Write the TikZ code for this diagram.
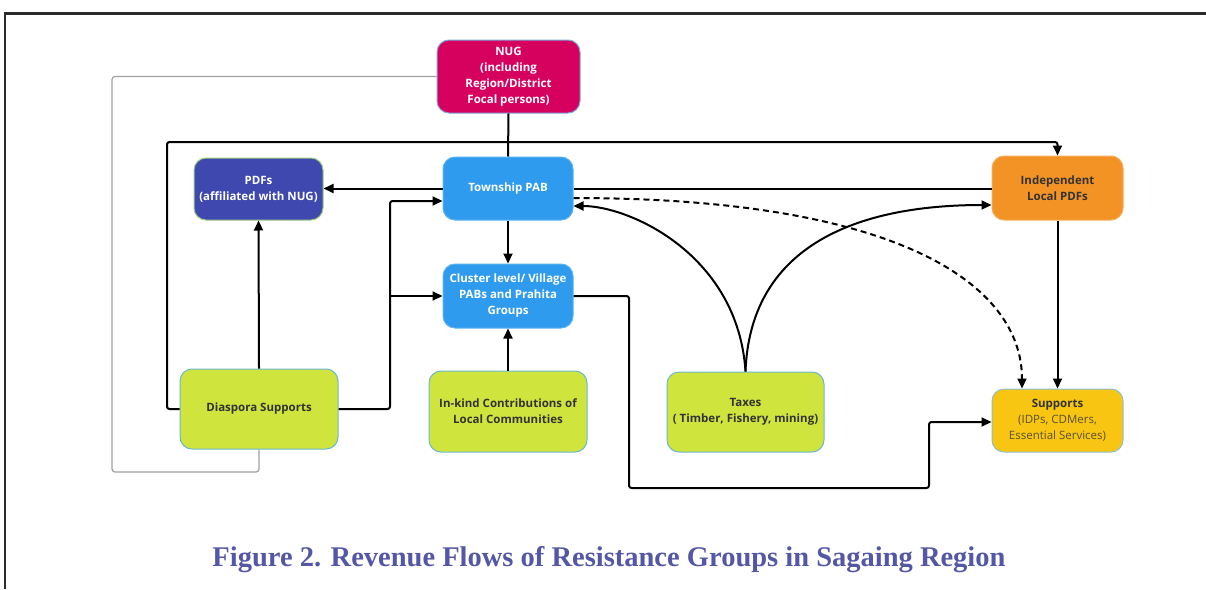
\documentclass[tikz,border=0pt]{standalone}
\usepackage{fontspec}
\setmainfont{Open Sans}
\newfontfamily\capfont{Liberation Serif}
\usetikzlibrary{arrows.meta,calc}
\definecolor{nugc}{HTML}{D6005F}
\definecolor{nugb}{HTML}{7FA8E0}
\definecolor{pdfc}{HTML}{3F48AF}
\definecolor{pdfb}{HTML}{9CCB7E}
\definecolor{bluec}{HTML}{2E9BEE}
\definecolor{blueb}{HTML}{5CB3F0}
\definecolor{orc}{HTML}{F39325}
\definecolor{orb}{HTML}{F6AE5C}
\definecolor{grc}{HTML}{CFE53D}
\definecolor{grb}{HTML}{6AB8D0}
\definecolor{yec}{HTML}{F8C513}
\definecolor{yeb}{HTML}{8CC0D0}
\definecolor{darktxt}{HTML}{333333}
\definecolor{subtxt}{HTML}{5A5230}
\definecolor{capc}{HTML}{5457A5}
\definecolor{framec}{HTML}{2A2A2A}
\definecolor{greyl}{HTML}{A0A0A0}
\tikzset{
  box/.style={rounded corners=12pt, line width=1pt, align=center, inner sep=2pt,
    font=\fontsize{11.5}{16}\selectfont\bfseries},
  conn/.style={line width=2pt, black, rounded corners=2.5pt},
  arr/.style={conn, -{Triangle[length=10pt,width=9pt]}},
  greyline/.style={line width=1.2pt, greyl, rounded corners=3pt},
}
\begin{document}
\begin{tikzpicture}[x=1pt,y=-1pt]
\useasboundingbox (0,0) rectangle (1206,589);
% frame
\draw[line width=3pt, framec] (4,13) -- (1206,13);
\draw[line width=2pt, framec] (5,12) -- (5,589);

% nodes
\node[box, fill=nugc, draw=nugb, text=white, minimum width=143pt, minimum height=73pt] (nug) at (508.5,76.5)
  {NUG\\(including\\Region/District\\Focal persons)};
\node[box, fill=pdfc, draw=pdfb, text=white, minimum width=129pt, minimum height=62pt] (pdf) at (258.5,189)
  {PDFs\\(affiliated with NUG)};
\node[box, fill=bluec, draw=blueb, text=white, minimum width=130pt, minimum height=63pt] (tw) at (508,188.5)
  {Township PAB};
\node[box, fill=orc, draw=orb, text=darktxt, minimum width=131pt, minimum height=64pt] (ind) at (1057.5,188)
  {Independent\\Local PDFs};
\node[box, fill=bluec, draw=blueb, text=white, minimum width=130pt, minimum height=64pt] (cl) at (508,296)
  {Cluster level/ Village\\PABs and Prahita\\Groups};
\node[box, fill=grc, draw=grb, text=darktxt, minimum width=158pt, minimum height=80pt] (dia) at (259,409)
  {Diaspora Supports};
\node[box, fill=grc, draw=grb, text=darktxt, minimum width=158pt, minimum height=81pt] (ink) at (508,411.5)
  {In-kind Contributions of\\Local Communities};
\node[box, fill=grc, draw=grb, text=darktxt, minimum width=157pt, minimum height=80pt] (tax) at (745.5,412)
  {Taxes\\( Timber, Fishery, mining)};
\node[box, fill=yec, draw=yeb, text=darktxt, minimum width=131pt, minimum height=63pt] (sup) at (1057.5,420.5)
  {Supports\\{\mdseries\color{subtxt}(IDPs, CDMers,}\\{\mdseries\color{subtxt}Essential Services)}};

% grey connector NUG -> Diaspora
\draw[greyline] (nug.west) -- (112,76.5) -- (112,472) -- (259,472) -- (dia.south);

% NUG -> Township
\draw[conn] (nug.south) -- (tw.north);

% Diaspora -> Independent (top route)
\draw[arr] (dia.west) -- (167,409) -- (167,142) -- (ind.north |- 0,142) -- (ind.north);

% Township -> PDFs
\draw[arr] (tw.west) -- (tw.west -| pdf.east);

% Diaspora -> PDFs
\draw[arr] (dia.north) -- (pdf.south);

% Diaspora -> Township / Cluster
\draw[arr] (dia.east) -- (390,409) -- (390,201) -- (tw.west |- 0,201);
\draw[arr] (390,296) -- (cl.west);

% Township -> Cluster
\draw[arr] (tw.south) -- (cl.north);

% In-kind -> Cluster
\draw[arr] (ink.north) -- (cl.south);

% Township -- Independent
\draw[conn] (tw.east) -- (tw.east -| ind.west);

% dashed Township -> Supports
\draw[arr, dashed, dash pattern=on 6pt off 4pt] (tw.east |- 0,198) .. controls (900,198) and (1022,285) .. (sup.north -| 1022,0);

% Taxes -> Township / Independent
\draw[arr] (tax.north) .. controls (738,255) and (630,206) .. (tw.east |- 0,206);
\draw[arr] (tax.north) .. controls (750,250) and (850,205) .. (ind.west |- 0,205);

% Independent -> Supports
\draw[arr] (ind.south) -- (sup.north);

% Cluster -> Supports
\draw[arr] (cl.east) -- (629,296) -- (629,488) -- (929,488) -- (929,422) -- (sup.west |- 0,422);

% caption
\node[font=\capfont\bfseries\fontsize{28.5}{32}\selectfont, text=capc] (cap) at (609,560)
  {Figure 2. Revenue Flows of Resistance Groups in Sagaing Region};
\end{tikzpicture}
\end{document}
